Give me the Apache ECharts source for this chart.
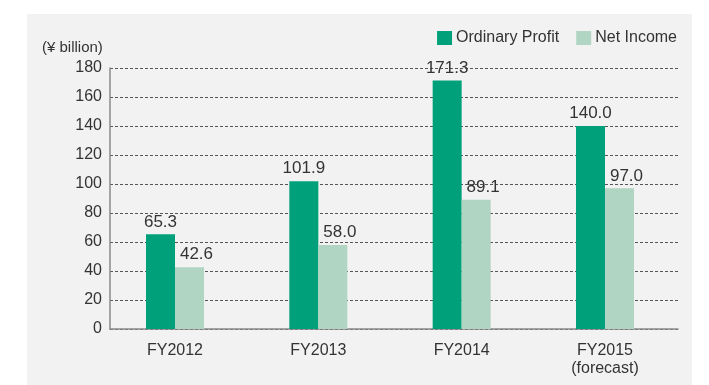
<!DOCTYPE html>
<html>
<head>
<meta charset="utf-8">
<script src="https://cdn.jsdelivr.net/npm/echarts@6/dist/echarts.min.js"></script>
<style>
  html, body { margin: 0; padding: 0; background: #ffffff; }
  #chart { width: 709px; height: 385px; }
</style>
</head>
<body>
<div id="chart"></div>
<script>
// Fiscal years and results (¥ billion)
const categories = ['FY2012', 'FY2013', 'FY2014', 'FY2015\n(forecast)'];
const ordinaryProfit = [65.3, 101.9, 171.3, 140.0];
const netIncome = [42.6, 58.0, 89.1, 97.0];
const yTicks = { min: 0, max: 180, interval: 20 };

const FONT = '"Liberation Sans", Arial, Helvetica, sans-serif';
const TEXT = '#333333';
const GREEN = '#00a07b';
const LIGHT = '#b0d5c3';

const chart = echarts.init(document.getElementById('chart'), null, { renderer: 'canvas' });

chart.setOption({
  animation: false,
  backgroundColor: '#ffffff',
  textStyle: { fontFamily: FONT, color: TEXT },
  graphic: [{
    type: 'rect',
    z: -10,
    shape: { x: 27, y: 14, width: 665, height: 371 },
    style: { fill: '#f2f2f2' }
  }],
  title: {
    text: '(¥ billion)',
    left: 42,
    top: 40,
    padding: 0,
    textStyle: { fontFamily: FONT, fontSize: 15, fontWeight: 'normal', color: TEXT }
  },
  legend: {
    right: 32,
    top: 30,
    itemWidth: 15,
    itemHeight: 14,
    itemGap: 17,
    padding: 0,
    icon: 'rect',
    textStyle: { fontFamily: FONT, fontSize: 16, color: TEXT, padding: [0, 0, 0, -1] },
    data: ['Ordinary Profit', 'Net Income']
  },
  grid: [
    // frame: axis lines, value ticks and dashed guides
    { left: 110, right: 31, top: 68, bottom: 56 },
    // bars and category labels
    { left: 103.33, right: 32.34, top: 68, bottom: 56 }
  ],
  xAxis: [
    {
      type: 'value', gridIndex: 0, min: 0, max: 1,
      axisLine: { show: true, lineStyle: { color: '#8a8a8a', width: 1.5 } },
      axisTick: { show: false }, axisLabel: { show: false }, splitLine: { show: false }
    },
    {
      type: 'category', gridIndex: 1, data: categories,
      axisLine: { show: false }, axisTick: { show: false },
      axisLabel: { fontFamily: FONT, fontSize: 16, color: TEXT, margin: 13, lineHeight: 18 }
    }
  ],
  yAxis: [
    {
      type: 'value', gridIndex: 0, min: yTicks.min, max: yTicks.max, interval: yTicks.interval,
      axisLine: { show: true, lineStyle: { color: '#8a8a8a', width: 1.5 } },
      axisTick: { show: false },
      axisLabel: { fontFamily: FONT, fontSize: 16, color: TEXT, margin: 8 },
      splitLine: { show: true, lineStyle: { color: '#555555', width: 1, type: [3, 2] } }
    },
    {
      type: 'value', gridIndex: 1, min: yTicks.min, max: yTicks.max, show: false
    }
  ],
  series: [
    {
      name: 'Ordinary Profit', type: 'bar', xAxisIndex: 1, yAxisIndex: 1,
      data: ordinaryProfit, barWidth: 29, barGap: '0%',
      itemStyle: { color: GREEN },
      label: {
        show: true, position: 'top', distance: 4,
        fontFamily: FONT, fontSize: 17, color: TEXT,
        formatter: p => p.value.toFixed(1)
      }
    },
    {
      name: 'Net Income', type: 'bar', xAxisIndex: 1, yAxisIndex: 1,
      data: netIncome, barWidth: 29, barGap: '0%',
      itemStyle: { color: LIGHT },
      label: {
        show: true, position: 'top', distance: 4, offset: [7, 0],
        fontFamily: FONT, fontSize: 17, color: TEXT,
        formatter: p => p.value.toFixed(1)
      }
    }
  ]
});
</script>
</body>
</html>
